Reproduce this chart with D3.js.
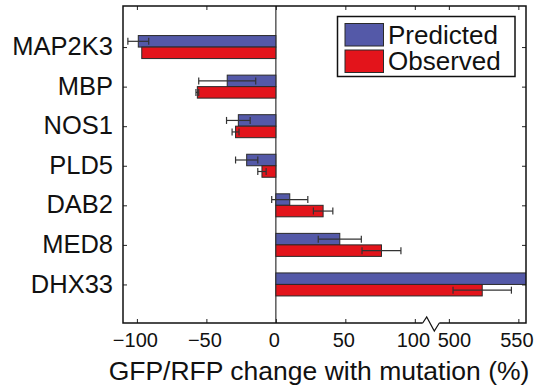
<!DOCTYPE html>
<html>
<head>
<meta charset="utf-8">
<script src="https://cdn.jsdelivr.net/npm/d3@7"></script>
<style>
    body { margin: 0; background: #fff; }
    text { font-family: "Liberation Sans", Arial, Helvetica, sans-serif; fill: #111; }
</style>
</head>
<body>
<script>
// chart data
var genes = ["MAP2K3", "MBP", "NOS1", "PLD5", "DAB2", "MED8", "DHX33"];
var predicted = [-99, -35, -27, -21, 10, 46, 570];
var predictedErr = [7.5, 20.5, 8.5, 8, 13, 15.5, 0];
var observed = [-96.5, -56.5, -29, -10, 34, 76, 524];
var observedErr = [0, 1, 2.5, 3, 7, 14, 21];
var xTicks = [-100, -50, 0, 50, 100, 500, 550];
var seriesNames = ["Predicted", "Observed"];

window.onload = (event) => {
    setChart();
};

function setChart() {
    var width = 536,
        height = 390,
        left = 123, right = 526, top = 6, bottom = 323,
        breakX = 431.5;

    var colors = ["#5459a8", "#e3141b"];

    var svg = d3.select("body")
        .append("svg")
        .attr("width", width)
        .attr("height", height);

    // broken x axis: piecewise scale, the gap 112..487.5 collapses to one pixel column
    var x = d3.scaleLinear()
        .domain([-110, 112, 487.5, 555.5])
        .range([left, breakX, breakX, right]);

    var y = d3.scalePoint()
        .domain(genes)
        .range([top + 1.5, bottom + 1])
        .padding(1);

    var barH = 11.5;

    svg.append("clipPath")
        .attr("id", "plotClip")
        .append("rect")
        .attr("x", left).attr("y", top)
        .attr("width", right - left).attr("height", bottom - top);

    var plot = svg.append("g").attr("clip-path", "url(#plotClip)");

    // zero line
    plot.append("line")
        .attr("x1", x(0)).attr("x2", x(0))
        .attr("y1", top).attr("y2", bottom)
        .attr("stroke", "#333").attr("stroke-width", 1.2);

    var rows = genes.map(function(g, i) {
        return [
            {gene: g, v: predicted[i], e: predictedErr[i], s: 0},
            {gene: g, v: observed[i], e: observedErr[i], s: 1}
        ];
    }).flat();

    plot.selectAll(".bar")
        .data(rows)
        .enter()
        .append("rect")
        .attr("class", "bar")
        .attr("x", function(d) { return Math.min(x(0), x(d.v)); })
        .attr("width", function(d) { return Math.abs(x(d.v) - x(0)); })
        .attr("y", function(d) { return y(d.gene) - (d.s == 0 ? barH : 0); })
        .attr("height", barH)
        .attr("fill", function(d) { return colors[d.s]; })
        .attr("stroke", "#2a2a2a")
        .attr("stroke-width", 1);

    // error bars
    var errs = plot.selectAll(".err")
        .data(rows.filter(function(d) { return d.e > 0; }))
        .enter()
        .append("g")
        .attr("class", "err")
        .attr("stroke", "#333")
        .attr("stroke-width", 1.2);

    var cy = function(d) { return y(d.gene) + (d.s == 0 ? -barH / 2 : barH / 2); };

    errs.append("line")
        .attr("x1", function(d) { return x(d.v - d.e); })
        .attr("x2", function(d) { return x(d.v + d.e); })
        .attr("y1", cy).attr("y2", cy);
    errs.append("line")
        .attr("x1", function(d) { return x(d.v - d.e); })
        .attr("x2", function(d) { return x(d.v - d.e); })
        .attr("y1", function(d) { return cy(d) - 3.5; })
        .attr("y2", function(d) { return cy(d) + 3.5; });
    errs.append("line")
        .attr("x1", function(d) { return x(d.v + d.e); })
        .attr("x2", function(d) { return x(d.v + d.e); })
        .attr("y1", function(d) { return cy(d) - 3.5; })
        .attr("y2", function(d) { return cy(d) + 3.5; });

    // axes (ticks inward)
    var fmt = d3.format("d");

    var xAxis = svg.append("g")
        .attr("transform", "translate(0," + bottom + ")")
        .call(d3.axisBottom(x).tickValues(xTicks).tickFormat(fmt)
            .tickSizeInner(-4).tickSizeOuter(0).tickPadding(8));
    xAxis.select(".domain").remove();
    xAxis.selectAll(".tick line").attr("stroke", "#222");
    xAxis.selectAll(".tick text")
        .attr("y", 24)
        .attr("dy", 0)
        .attr("dx", function(d) { return d == 500 ? 5 : -2; })
        .style("font-size", "20px");

    var xTop = svg.append("g")
        .attr("transform", "translate(0," + top + ")")
        .call(d3.axisTop(x).tickValues(xTicks).tickFormat("")
            .tickSizeInner(-4).tickSizeOuter(0));
    xTop.select(".domain").remove();
    xTop.selectAll(".tick line").attr("stroke", "#222");

    var yAxis = svg.append("g")
        .attr("transform", "translate(" + left + ",0)")
        .call(d3.axisLeft(y).tickSizeInner(-4).tickSizeOuter(0).tickPadding(10));
    yAxis.select(".domain").remove();
    yAxis.selectAll(".tick line").attr("stroke", "#222");
    yAxis.selectAll(".tick text")
        .attr("dy", "0.3em")
        .style("font-size", "25.5px");

    var yRight = svg.append("g")
        .attr("transform", "translate(" + right + ",0)")
        .call(d3.axisRight(y).tickFormat("").tickSizeInner(-4).tickSizeOuter(0));
    yRight.select(".domain").remove();
    yRight.selectAll(".tick line").attr("stroke", "#222");

    // frame, bottom edge broken with a zigzag
    var frame = svg.append("g")
        .attr("fill", "none")
        .attr("stroke", "#111")
        .attr("stroke-width", 1.5);
    frame.append("path")
        .attr("d", "M" + 422.7 + "," + bottom + "H" + left + "V" + top + "H" + right + "V" + bottom + "H" + 439.3);
    frame.append("path")
        .attr("stroke-width", 1.2)
        .attr("d", "M422.7," + bottom + "L426.7," + (bottom - 6) + "L434.3," + (bottom + 8) + "L439.3," + bottom);

    svg.append("text")
        .attr("x", 319)
        .attr("y", 380)
        .attr("text-anchor", "middle")
        .style("font-size", "26.5px")
        .text("GFP/RFP change with mutation (%)");

    // legend
    var legend = svg.append("g");
    legend.append("rect")
        .attr("x", 337.5).attr("y", 16.5)
        .attr("width", 177.5).attr("height", 60)
        .attr("fill", "#fff")
        .attr("stroke", "#111")
        .attr("stroke-width", 1.5);
    var items = legend.selectAll(".item")
        .data(seriesNames)
        .enter()
        .append("g")
        .attr("transform", function(d, i) { return "translate(345," + (23.5 + i * 26.5) + ")"; });
    items.append("rect")
        .attr("width", 38.5).attr("height", 22.5)
        .attr("fill", function(d, i) { return colors[i]; })
        .attr("stroke", "#2a2a2a")
        .attr("stroke-width", 1);
    items.append("text")
        .attr("x", 43)
        .attr("y", 20)
        .style("font-size", "26px")
        .text(function(d) { return d; });
}
</script>
</body>
</html>
